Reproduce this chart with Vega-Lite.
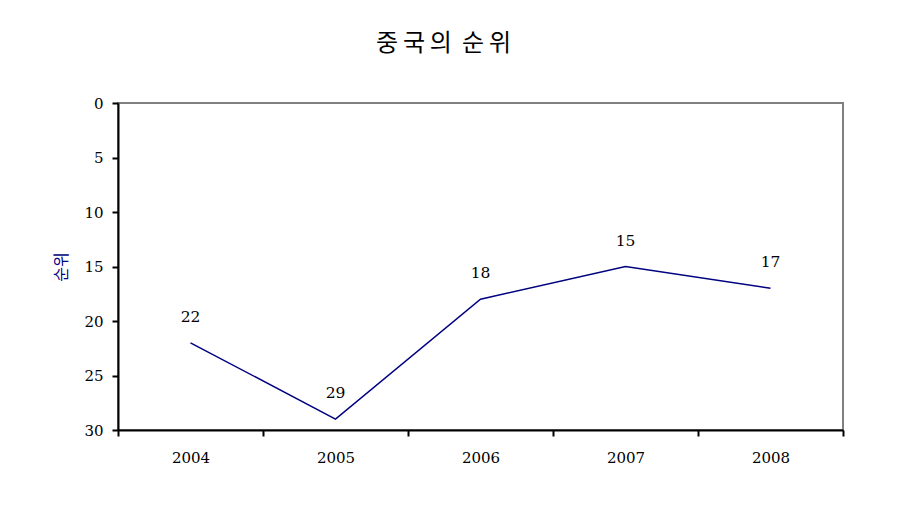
{
  "$schema": "https://vega.github.io/schema/vega-lite/v6.json",
  "autosize": "none",
  "width": 725,
  "height": 327,
  "padding": {"left": 118, "top": 103, "right": 73, "bottom": 94},
  "background": "white",
  "title": {
    "text": "중\u2009국\u2009의 \u2009순\u2009위",
    "font": "Noto Sans CJK KR",
    "fontSize": 24,
    "fontWeight": "normal",
    "color": "black",
    "anchor": "middle",
    "dx": -37,
    "offset": 40
  },
  "data": {
    "values": [
      {"year": "2004", "rank": 22},
      {"year": "2005", "rank": 29},
      {"year": "2006", "rank": 18},
      {"year": "2007", "rank": 15},
      {"year": "2008", "rank": 17}
    ]
  },
  "encoding": {
    "x": {
      "field": "year",
      "type": "ordinal",
      "bandPosition": 0.5,
      "scale": {"type": "band", "paddingInner": 0, "paddingOuter": 0},
      "axis": {
        "title": null,
        "labelAngle": 0,
        "tickBand": "extent",
        "tickSize": 6,
        "tickColor": "black",
        "domainColor": "black",
        "domainWidth": 2,
        "tickWidth": 2,
        "labelFont": "DejaVu Serif",
        "labelFontSize": 15,
        "labelColor": "black",
        "labelPadding": 14
      }
    },
    "y": {
      "field": "rank",
      "type": "quantitative",
      "scale": {"domain": [0, 30], "reverse": true, "nice": false},
      "axis": {
        "title": "순위",
        "titleFont": "Noto Sans CJK KR",
        "titleFontSize": 16,
        "titleFontWeight": "normal",
        "titleColor": "#000080",
        "titlePadding": 14,
        "values": [0, 5, 10, 15, 20, 25, 30],
        "grid": false,
        "tickSize": 6,
        "tickColor": "black",
        "tickWidth": 2,
        "domainColor": "black",
        "domainWidth": 2,
        "labelFont": "DejaVu Serif",
        "labelFontSize": 15,
        "labelColor": "black",
        "labelPadding": 9
      }
    }
  },
  "layer": [
    {"mark": {"type": "line", "color": "#000080", "strokeWidth": 1.5}},
    {
      "mark": {"type": "text", "dy": -26, "font": "DejaVu Serif", "fontSize": 15.5, "color": "black"},
      "encoding": {"text": {"field": "rank", "type": "quantitative"}}
    }
  ],
  "config": {
    "view": {"stroke": "#808080", "strokeWidth": 2}
  }
}
